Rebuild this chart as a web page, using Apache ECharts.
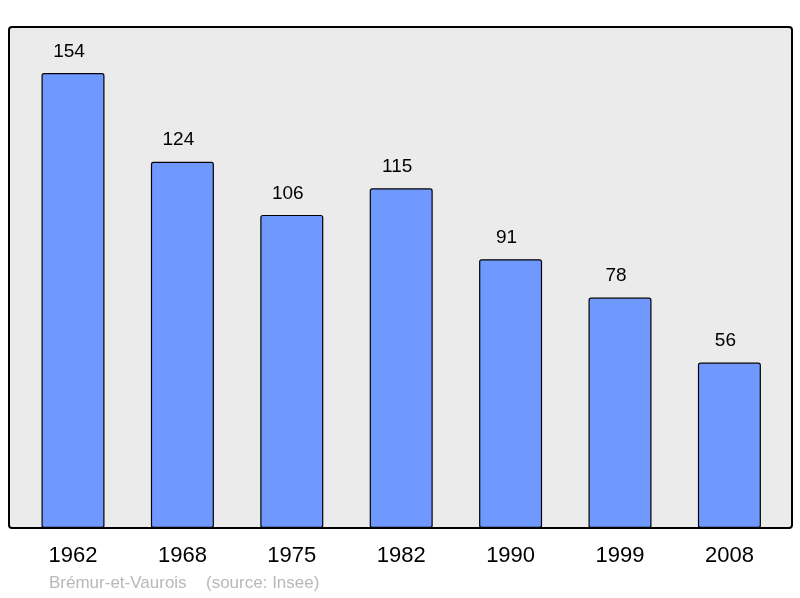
<!DOCTYPE html>
<html><head><meta charset="utf-8">
<script src="https://cdn.jsdelivr.net/npm/echarts@6/dist/echarts.min.js"></script>
<style>html,body{margin:0;padding:0;background:#fff}#c{width:800px;height:598px}</style>
</head><body><div id="c"></div>
<script>
const years = ['1962','1968','1975','1982','1990','1999','2008'];
const population = [154,124,106,115,91,78,56];
const footerName = 'Brémur-et-Vaurois';
const footerSource = '(source: Insee)';

const chart = echarts.init(document.getElementById('c'), null, {renderer:'canvas'});
const ffont = '17px "Liberation Sans", Arial, sans-serif';
chart.setOption({
  animation:false,
  backgroundColor:'#ffffff',
  graphic:[
    {type:'rect', z:-10, shape:{x:9, y:27, width:783, height:501, r:3},
     style:{fill:'#ebebeb', stroke:'#000', lineWidth:2}},
    {type:'text', left:49, top:575, style:{text:footerName, fill:'#b8b8b8', font:ffont}},
    {type:'text', left:206, top:575, style:{text:footerSource, fill:'#b8b8b8', font:ffont}}
  ],
  grid:{left:18.3, width:765.8, top:27, height:501},
  xAxis:{type:'category', data:years, axisLine:{show:false}, axisTick:{show:false},
    axisLabel:{color:'#000', fontSize:22, fontFamily:'Liberation Sans', margin:17}},
  yAxis:{type:'value', min:0, max:169.6, show:false, splitLine:{show:false}},
  series:[{type:'bar', data:population, barWidth:63,
    itemStyle:{color:'#7099ff', borderColor:'#000', borderWidth:1.2, borderRadius:2},
    label:{show:true, position:'top', distance:12, offset:[-4,0], color:'#000', fontSize:19, fontFamily:'Liberation Sans'}}]
});
</script></body></html>
